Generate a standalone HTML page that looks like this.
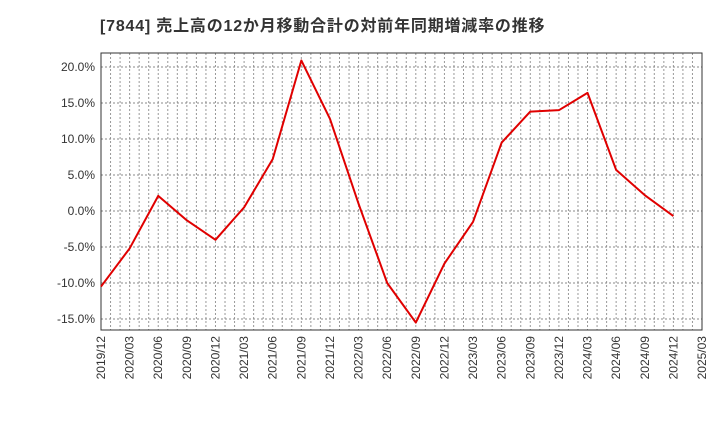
<!DOCTYPE html>
<html><head><meta charset="utf-8"><style>
body{margin:0;background:#fff;}
svg text{font-family:"Liberation Sans","Noto Sans CJK JP",sans-serif;}
</style></head><body>
<svg id="chart" width="720" height="440" xmlns="http://www.w3.org/2000/svg">
<text x="100" y="31" font-size="16" font-weight="bold" fill="#333" letter-spacing="0.8">[7844]  売上高の12か月移動合計の対前年同期増減率の推移</text>
<g id="grid"></g><g id="axes"></g><g id="series"></g>
</svg>
<script>
const categories=["2019/12","2020/03","2020/06","2020/09","2020/12","2021/03","2021/06","2021/09","2021/12","2022/03","2022/06","2022/09","2022/12","2023/03","2023/06","2023/09","2023/12","2024/03","2024/06","2024/09","2024/12"];
const tickLabels=["2019/12","2020/03","2020/06","2020/09","2020/12","2021/03","2021/06","2021/09","2021/12","2022/03","2022/06","2022/09","2022/12","2023/03","2023/06","2023/09","2023/12","2024/03","2024/06","2024/09","2024/12","2025/03"];
const values=[-10.5,-5.2,2.1,-1.3,-4.0,0.5,7.2,20.9,12.8,1.0,-10.0,-15.5,-7.3,-1.5,9.5,13.8,14.0,16.4,5.7,2.2,-0.7];
const yTicks=[20,15,10,5,0,-5,-10,-15];
const L=101,R=702,T=53,B=330,yMax=21.94,yMin=-16.53;
const NS="http://www.w3.org/2000/svg";
const xs=i=>L+(R-L)*i/(tickLabels.length-1);
const ys=v=>T+(yMax-v)/(yMax-yMin)*(B-T);
function mk(tag,attrs,parent){const e=document.createElementNS(NS,tag);for(const k in attrs)e.setAttribute(k,attrs[k]);document.getElementById(parent).appendChild(e);return e;}
const nMonths=(tickLabels.length-1)*3;
for(let m=1;m<nMonths;m++){const x=L+(R-L)*m/nMonths;
const g=mk('line',{x1:x,x2:x,y1:T,y2:B,stroke:'#999','stroke-width':1,'stroke-dasharray':'2,2'},'grid');

}
yTicks.forEach(v=>{const y=ys(v);
const g=mk('line',{x1:L,x2:R,y1:y,y2:y,stroke:'#888','stroke-width':1,'stroke-dasharray':'2,2'},'grid');


const t=mk('text',{x:L-6,y:y+4,'text-anchor':'end','font-size':12,fill:'#333'},'axes');t.textContent=v.toFixed(1)+'%';

});
tickLabels.forEach((s,i)=>{const x=xs(i);
const t=mk('text',{x:0,y:0,'text-anchor':'end','font-size':12,fill:'#333',transform:`translate(${x+4},${B+6}) rotate(-90)`},'axes');t.textContent=s;

});
const fr=mk('rect',{x:L,y:T,width:R-L,height:B-T,fill:'none',stroke:'#333','stroke-width':1},'axes');


const pts=values.map((v,i)=>xs(i)+','+ys(v)).join(' ');
const pl=mk('polyline',{points:pts,fill:'none',stroke:'#e00000','stroke-width':2,'stroke-linejoin':'round'},'series');


</script>
</body></html>
